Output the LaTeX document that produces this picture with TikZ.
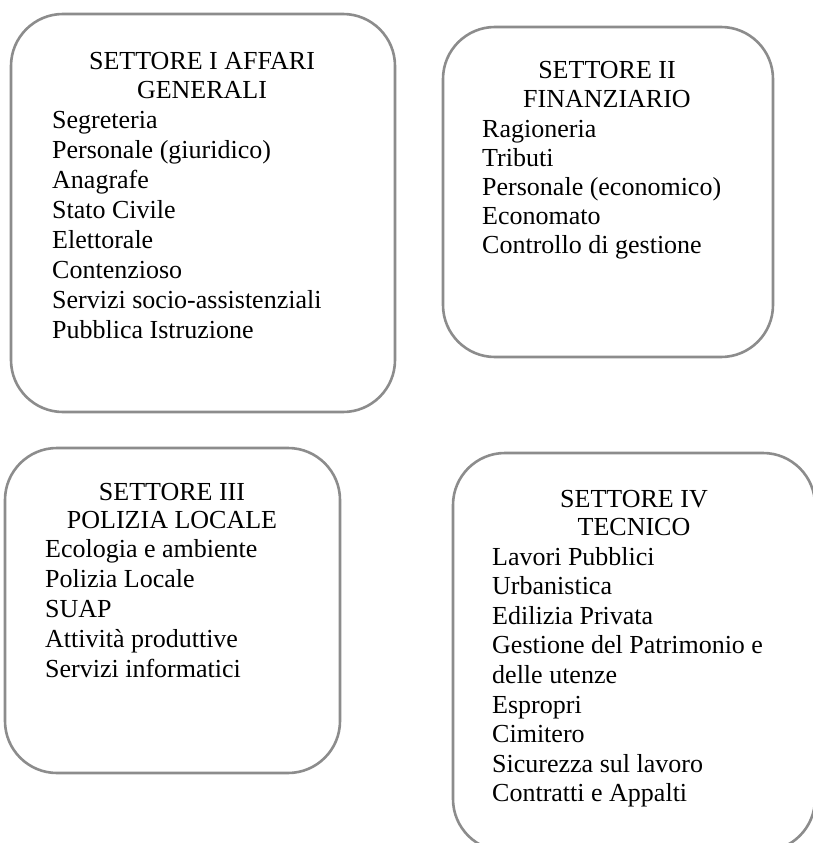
\documentclass[tikz,border=0pt]{standalone}
\usepackage{fontspec}
\setmainfont{Liberation Serif}
\begin{document}
\begin{tikzpicture}[x=1pt,y=-1pt,
  sbox/.style={draw=black!45, line width=2.6pt, rounded corners=52pt, inner sep=0pt, outer sep=0pt},
  ttl/.style={font=\fontsize{26}{29}\selectfont, anchor=base, inner sep=0pt},
  item/.style={font=\fontsize{26}{30}\selectfont, anchor=base west, inner sep=0pt}]
\useasboundingbox (0,0) rectangle (813,843);
\clip (0,0) rectangle (813,843);
% boxes
\node[sbox, minimum width=384pt, minimum height=398pt] (b1) at (203,213) {};
\node[sbox, minimum width=330pt, minimum height=330pt] (b2) at (608,192) {};
\node[sbox, minimum width=335pt, minimum height=325pt] (b3) at (172.5,610.5) {};
\node[sbox, minimum width=362pt, minimum height=398pt] (b4) at (634,652) {};
% box 1
\node[ttl] (t1a) at (202,70) {SETTORE I AFFARI};
\node[ttl] (t1b) at (202,98) {GENERALI};
\foreach \t [count=\i] in {Segreteria, Personale (giuridico), Anagrafe, Stato Civile, Elettorale, Contenzioso, Servizi socio-assistenziali, Pubblica Istruzione}
  \node[item] (a\i) at ({52},{128+30*(\i-1)}) {\t};
% box 2
\node[ttl] (t2a) at (607,78) {SETTORE II};
\node[ttl] (t2b) at (607,107) {FINANZIARIO};
\foreach \t [count=\i] in {Ragioneria, Tributi, Personale (economico), Economato, Controllo di gestione}
  \node[item] (b\i) at ({482},{137+29*(\i-1)}) {\t};
% box 3
\node[ttl] (t3a) at (172,500) {SETTORE III};
\node[ttl] (t3b) at (172,528) {POLIZIA LOCALE};
\foreach \t [count=\i] in {Ecologia e ambiente, Polizia Locale, SUAP, Attività produttive, Servizi informatici}
  \node[item] (c\i) at ({45},{557+30*(\i-1)}) {\t};
% box 4
\node[ttl] (t4a) at (634,507) {SETTORE IV};
\node[ttl] (t4b) at (634,535) {TECNICO};
\foreach \t [count=\i] in {Lavori Pubblici, Urbanistica, Edilizia Privata, Gestione del Patrimonio e, delle utenze, Espropri, Cimitero, Sicurezza sul lavoro, Contratti e Appalti}
  \node[item] (d\i) at ({492},{565+29.6*(\i-1)}) {\t};
\end{tikzpicture}
\end{document}
